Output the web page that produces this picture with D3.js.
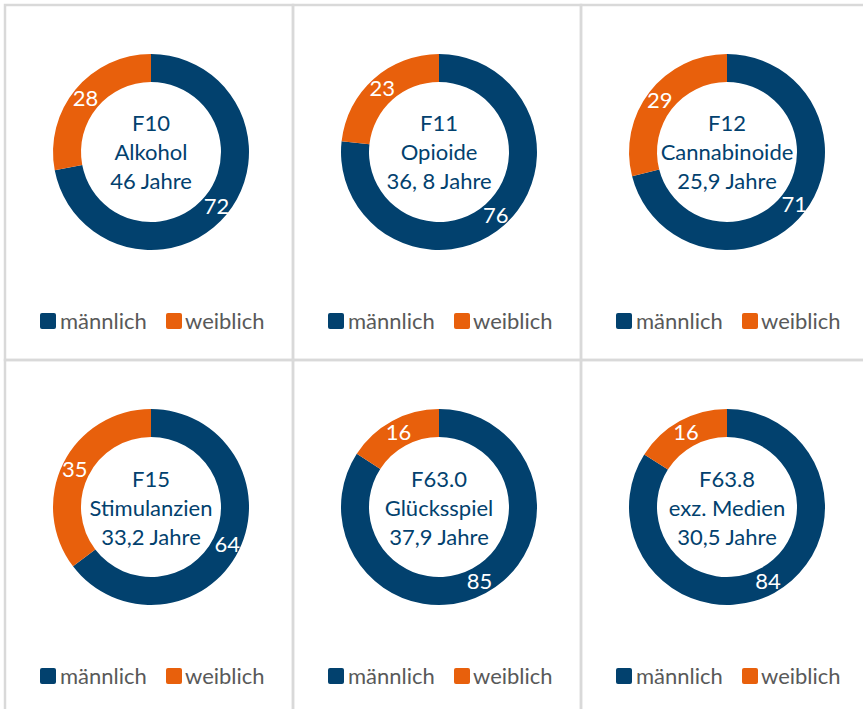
<!DOCTYPE html>
<html><head><meta charset="utf-8">
<script src="https://cdn.jsdelivr.net/npm/d3@7"></script>
<style>body{margin:0;background:#fff}svg{display:block}</style>
</head><body>
<script>
const codes = ["F10","F11","F12","F15","F63.0","F63.8"];
const names = ["Alkohol","Opioide","Cannabinoide","Stimulanzien","Glücksspiel","exz. Medien"];
const ages = ["46 Jahre","36, 8 Jahre","25,9 Jahre","33,2 Jahre","37,9 Jahre","30,5 Jahre"];
const maleValues = [72,76,71,64,85,84];
const femaleValues = [28,23,29,35,16,16];
const seriesNames = ["männlich","weiblich"];
const colors = ["#02416e","#e8600c"];

const W = 863, H = 709;
const svg = d3.select("body").append("svg").attr("width", W).attr("height", H);

// panel grid
const colX = d3.scaleBand().domain([0,1,2]).range([5, 869]).paddingInner(0);
const rowY = d3.scaleBand().domain([0,1]).range([5, 715]).paddingInner(0);
const g0 = svg.append("g");
[0,1,2].forEach(c => [0,1].forEach(r => {
  g0.append("rect").attr("x", colX(c)).attr("y", rowY(r))
    .attr("width", colX.bandwidth()).attr("height", rowY.bandwidth())
    .attr("fill","none").attr("stroke","#d9d9d9").attr("stroke-width",2.5);
}));

const outerR = 98, innerR = 70;
const arc = d3.arc().innerRadius(innerR).outerRadius(outerR);
const labelArc = d3.arc().innerRadius(innerR + 15).outerRadius(innerR + 15);
const pie = d3.pie().sort(null).value(d => d.v);

codes.forEach((code, i) => {
  const c = i % 3, r = Math.floor(i / 3);
  const cx = colX(c) + 146, cy = rowY(r) + 147;
  const g = svg.append("g").attr("transform", `translate(${cx},${cy})`);
  const data = [{k:0, v: maleValues[i]}, {k:1, v: femaleValues[i]}];
  const arcs = pie(data);
  g.selectAll("path").data(arcs).join("path")
    .attr("d", arc).attr("fill", d => colors[d.data.k]);
  g.selectAll("text.val").data(arcs).join("text").attr("class","val")
    .attr("transform", d => `translate(${labelArc.centroid(d)})`)
    .attr("text-anchor","middle").attr("dy","0.35em")
    .attr("font-family","Lato, sans-serif").attr("font-size",22)
    .attr("fill","#fff").text(d => d.data.v);
  const lines = [code, names[i], ages[i]];
  g.selectAll("text.ctr").data(lines).join("text").attr("class","ctr")
    .attr("x", 0).attr("y", (d, j) => (j - 1) * 29 + (r === 1 ? 1 : 0))
    .attr("text-anchor","middle").attr("dy","0.35em")
    .attr("font-family","Lato, sans-serif").attr("font-size",22)
    .attr("fill","#02416e").text(d => d);
  // legend
  const lg = svg.append("g").attr("transform", `translate(${cx},${cy + 169})`);
  const offs = [[-111, -91], [15, 34]];
  seriesNames.forEach((s, k) => {
    lg.append("rect").attr("x", offs[k][0]).attr("y", -8).attr("width", 16).attr("height", 16)
      .attr("rx", 2).attr("fill", colors[k]);
    lg.append("text").attr("x", offs[k][1]).attr("y", 0).attr("dy","0.35em")
      .attr("font-family","Lato, sans-serif").attr("font-size",22)
      .attr("fill","#595959").text(s);
  });
});
</script>
</body></html>
